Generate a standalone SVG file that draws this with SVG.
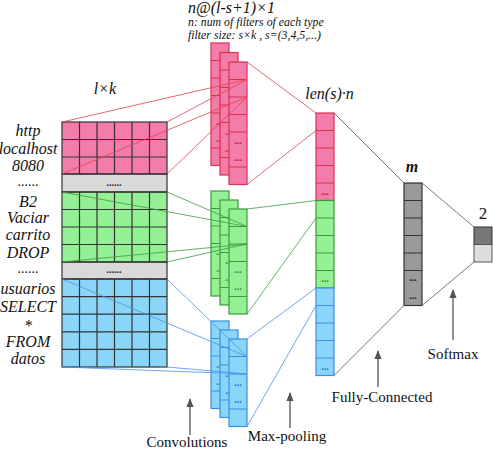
<svg xmlns="http://www.w3.org/2000/svg" width="493" height="450" viewBox="0 0 493 450">
<defs>
<marker id="ah" viewBox="0 0 10 10" refX="9" refY="5" markerWidth="7" markerHeight="7" orient="auto"><path d="M0,1 L10,5 L0,9 z" fill="#555"/></marker>
<style>
text{font-family:"Liberation Serif","Times New Roman",serif;fill:#111}
.it{font-style:italic}
.lab{font-size:16px;font-style:italic;text-anchor:middle}
.cap{font-size:15px;text-anchor:middle}
.grid{stroke:#333;stroke-width:1.2}
.pk{fill:#f47caa}
.gn{fill:#94f094}
.bl{fill:#8ad6f8}
.pkS{fill:#f47caa;stroke:#d9304e;stroke-width:1.2}
.gnS{fill:#94f094;stroke:#3c9a3c;stroke-width:1.2}
.blS{fill:#8ad6f8;stroke:#3a8ee6;stroke-width:1.2}
.gyS{fill:#9a9a9a;stroke:#333;stroke-width:1.2}
.band{fill:#d9d9d9;stroke:#333;stroke-width:1.2}
.dr{fill:#c0203c;font-size:10px;text-anchor:middle;font-weight:bold}
.dg{fill:#2e8b2e;font-size:10px;text-anchor:middle;font-weight:bold}
.db{fill:#1e6fd0;font-size:10px;text-anchor:middle;font-weight:bold}
.dk{fill:#222;font-size:10px;text-anchor:middle;font-weight:bold}
.cr{stroke:#e0404f;stroke-width:0.8;fill:none}
.cg{stroke:#3c9a3c;stroke-width:0.8;fill:none}
.cb{stroke:#4a90e8;stroke-width:0.8;fill:none}
.ck{stroke:#555;stroke-width:0.8;fill:none}
.arr{stroke:#555;stroke-width:1.3;fill:none;marker-end:url(#ah)}
</style>
</defs>
<rect width="493" height="450" fill="#fff"/>

<!-- header texts -->
<g id="header">
<text x="188" y="13" font-size="16" class="it">n@(l-s+1)×1</text>
<text x="188" y="25.5" font-size="11.8" class="it">n: num of filters of each type</text>
<text x="188" y="38.5" font-size="11.8" class="it">filter size: s×k , s=(3,4,5,...)</text>
</g>

<!-- input matrix -->
<g id="input">
<text x="105" y="94" class="lab" font-size="17">l×k</text>
<rect x="62" y="122" width="105" height="52" class="pk"/>
<rect x="62" y="192" width="105" height="70" class="gn"/>
<rect x="62" y="279" width="105" height="88" class="bl"/>
<rect x="62" y="174" width="105" height="18" class="band"/>
<rect x="62" y="262" width="105" height="17" class="band"/>
<text x="114" y="186" class="dk" font-weight="normal" font-size="9">......</text>
<text x="114" y="273" class="dk" font-weight="normal" font-size="9">......</text>
<g class="grid" fill="none">
<rect x="62" y="122" width="105" height="52"/>
<path d="M62,139.5H167M62,157H167"/>
<path d="M79.5,122V174M97,122V174M114.5,122V174M132,122V174M149.5,122V174"/>
<rect x="62" y="192" width="105" height="70"/>
<path d="M62,209.5H167M62,227H167M62,244.5H167"/>
<path d="M79.5,192V262M97,192V262M114.5,192V262M132,192V262M149.5,192V262"/>
<rect x="62" y="279" width="105" height="88"/>
<path d="M62,296.6H167M62,314.2H167M62,331.8H167M62,349.4H167"/>
<path d="M79.5,279V367M97,279V367M114.5,279V367M132,279V367M149.5,279V367"/>
</g>
<g class="lab">
<text x="28" y="136">http</text>
<text x="28" y="153.5">localhost</text>
<text x="28" y="170.5">8080</text>
<text x="28" y="186" style="font-style:normal;font-size:14px">......</text>
<text x="28" y="207">B2</text>
<text x="28" y="223">Vaciar</text>
<text x="28" y="240">carrito</text>
<text x="28" y="258">DROP</text>
<text x="28" y="273" style="font-style:normal;font-size:14px">......</text>
<text x="28" y="293.5">usuarios</text>
<text x="28" y="311.5">SELECT</text>
<text x="28" y="331">*</text>
<text x="28" y="347">FROM</text>
<text x="28" y="364">datos</text>
</g>
</g>

<!-- pink feature maps -->
<g id="conv-pink">
<g transform="translate(211,43)">
<rect width="18" height="122.5" class="pkS"/>
<path d="M0,17.5H18M0,35H18M0,52.5H18M0,70H18M0,105H18" stroke="#d9304e" stroke-width="1.2"/>
<text x="9" y="82" class="dr">...</text><text x="9" y="99" class="dr">...</text>
</g>
<g transform="translate(220,52.5)">
<rect width="18" height="122.5" class="pkS"/>
<path d="M0,17.5H18M0,35H18M0,52.5H18M0,70H18M0,105H18" stroke="#d9304e" stroke-width="1.2"/>
<text x="9" y="82" class="dr">...</text><text x="9" y="99" class="dr">...</text>
</g>
<g transform="translate(229,62)">
<rect width="18" height="122.5" class="pkS"/>
<path d="M0,17.5H18M0,35H18M0,52.5H18M0,70H18M0,105H18" stroke="#d9304e" stroke-width="1.2"/>
<text x="9" y="82" class="dr">...</text><text x="9" y="99" class="dr">...</text>
</g>
</g>

<!-- green feature maps -->
<g id="conv-green">
<g transform="translate(211,191)">
<rect width="18" height="105" class="gnS"/>
<path d="M0,17.5H18M0,35H18M0,52.5H18M0,87.5H18" stroke="#3c9a3c" stroke-width="1.2"/>
<text x="9" y="64" class="dg">...</text><text x="9" y="81" class="dg">...</text>
</g>
<g transform="translate(220,200)">
<rect width="18" height="105" class="gnS"/>
<path d="M0,17.5H18M0,35H18M0,52.5H18M0,87.5H18" stroke="#3c9a3c" stroke-width="1.2"/>
<text x="9" y="64" class="dg">...</text><text x="9" y="81" class="dg">...</text>
</g>
<g transform="translate(229,209)">
<rect width="18" height="105" class="gnS"/>
<path d="M0,17.5H18M0,35H18M0,52.5H18M0,87.5H18" stroke="#3c9a3c" stroke-width="1.2"/>
<text x="9" y="64" class="dg">...</text><text x="9" y="81" class="dg">...</text>
</g>
</g>

<!-- blue feature maps -->
<g id="conv-blue">
<g transform="translate(211,321)">
<rect width="18" height="87.5" class="blS"/>
<path d="M0,17.5H18M0,35H18M0,70H18" stroke="#3a8ee6" stroke-width="1.2"/>
<text x="9" y="47" class="db">...</text><text x="9" y="64" class="db">...</text>
</g>
<g transform="translate(220,330)">
<rect width="18" height="87.5" class="blS"/>
<path d="M0,17.5H18M0,35H18M0,70H18" stroke="#3a8ee6" stroke-width="1.2"/>
<text x="9" y="47" class="db">...</text><text x="9" y="64" class="db">...</text>
</g>
<g transform="translate(229,339)">
<rect width="18" height="87.5" class="blS"/>
<path d="M0,17.5H18M0,35H18M0,70H18" stroke="#3a8ee6" stroke-width="1.2"/>
<text x="9" y="47" class="db">...</text><text x="9" y="64" class="db">...</text>
</g>
</g>

<!-- pooled column -->
<g id="pooled">
<text x="329.5" y="99" class="lab" font-size="17">len(s)·n</text>
<rect x="316" y="113" width="18" height="87.5" class="pkS"/>
<path d="M316,130.5H334M316,148H334M316,165.5H334M316,183H334" stroke="#d9304e" stroke-width="1.2"/>
<text x="325" y="195" class="dr">...</text>
<rect x="316" y="200.5" width="18" height="87.5" class="gnS"/>
<path d="M316,218H334M316,235.5H334M316,253H334M316,270.5H334" stroke="#3c9a3c" stroke-width="1.2"/>
<text x="325" y="282" class="dg">...</text>
<rect x="316" y="288" width="18" height="87.5" class="blS"/>
<path d="M316,305.5H334M316,323H334M316,340.5H334M316,358H334" stroke="#3a8ee6" stroke-width="1.2"/>
<text x="325" y="370" class="db">...</text>
</g>

<!-- fully connected column -->
<g id="fc">
<text x="412" y="172" class="lab" font-size="17" font-weight="bold">m</text>
<rect x="404" y="183" width="18" height="122.5" class="gyS"/>
<path d="M404,200.5H422M404,218H422M404,235.5H422M404,253H422M404,270.5H422" stroke="#333" stroke-width="1.2"/>
<text x="413" y="281" class="dk">...</text>
<text x="413" y="299" class="dk">...</text>
</g>

<!-- output -->
<g id="output">
<text x="483" y="219" font-size="17" text-anchor="middle">2</text>
<rect x="474" y="227" width="18" height="17.5" fill="#777" stroke="#333" stroke-width="1"/>
<rect x="474" y="244.5" width="18" height="17.5" fill="#ddd" stroke="#555" stroke-width="1"/>
</g>

<!-- connectors -->
<g id="connectors">
<path class="cr" d="M62,122L247,79.5M167,122L247,79.5M62,174L247,97M167,174L247,97"/>
<path class="cr" d="M247,62L316,113M247,184.5L316,130.5"/>
<path class="cg" d="M62,192L247,226.5M167,192L247,226.5M62,262L247,244M167,262L247,244"/>
<path class="cg" d="M247,209L316,200.5M247,314L316,218"/>
<path class="cb" d="M62,279L247,356.5M167,279L247,356.5M62,367L247,374M167,367L247,374"/>
<path class="cb" d="M247,339L316,288M247,426.5L316,305.5"/>
<path class="ck" d="M334,113L404,183M334,375.5L404,305.5M422,183L474,227M422,305.5L474,262"/>
</g>

<!-- stage labels -->
<g id="labels">
<path class="arr" d="M190,435V399"/>
<text x="187" y="447" class="cap">Convolutions</text>
<path class="arr" d="M290,428V393"/>
<text x="287" y="441" class="cap">Max-pooling</text>
<path class="arr" d="M378,387V351"/>
<text x="382" y="402" class="cap">Fully-Connected</text>
<path class="arr" d="M453,340V290"/>
<text x="453" y="359" class="cap">Softmax</text>
</g>
</svg>
